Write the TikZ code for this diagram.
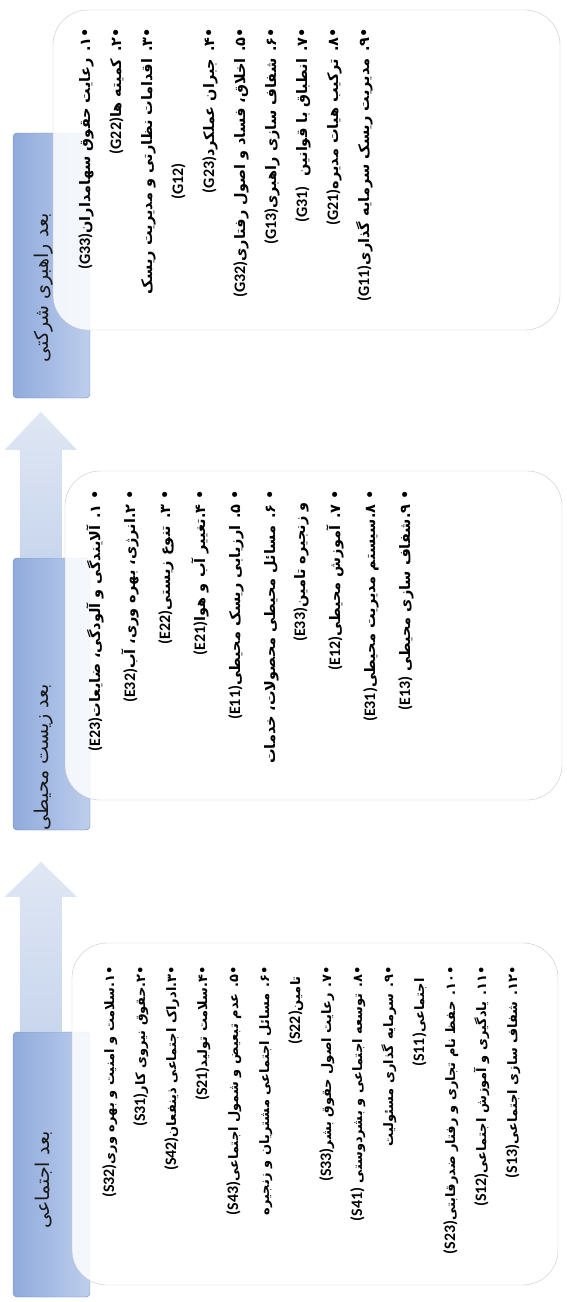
\documentclass[tikz,border=0pt]{standalone}
\usepackage{fontspec}
\newfontfamily\farsi[Script=Arabic]{DejaVu Sans}
\newfontfamily\latin{Carlito}
\TeXXeTstate=1
\usetikzlibrary{positioning}

\definecolor{headdark}{RGB}{143,170,220}
\definecolor{headlight}{RGB}{190,206,236}
\definecolor{headline}{RGB}{112,136,180}
\definecolor{boxline}{RGB}{196,200,206}
\definecolor{arrowtop}{RGB}{224,231,244}
\definecolor{arrowbot}{RGB}{200,214,237}

\newcommand{\ecode}[1]{\beginL{\latin\bfseries\fontsize{16}{16}\selectfont(#1)}\endL}

\begin{document}
\begin{tikzpicture}
[x=1pt,y=-1pt,
 head/.style = {draw=headline, rounded corners=4pt, left color=headdark, right color=headlight,
   minimum width=77pt, minimum height=265pt, inner sep=0pt},
 htext/.style = {rotate=90, inner sep=0pt, text=black!90, font=\farsi\fontsize{19}{21}\selectfont},
 cbox/.style = {draw=boxline, rounded corners=35pt, fill=white, fill opacity=0.85, inner sep=0pt},
 items/.style = {rotate=90, align=right, anchor=north east, inner sep=0pt},
 uparrow/.style = {top color=arrowtop, bottom color=arrowbot},]
\fill[white] (0,0) rectangle (566,1302);
\useasboundingbox (0,0) rectangle (566,1302);

\node (ghead) at (51.5,265.5) [head] {};
\node (ehead) at (51.5,694) [head, minimum height=272pt] {};
\node (shead) at (51.5,1164.5) [head] {};

\shade[uparrow] (shead.north west) ++(7,0) -- ++(0,-135) -- ++(-15,0) -- ++(36,-35)
  -- ++(36,35) -- ++(-15,0) -- ++(0,135) -- cycle;
\shade[uparrow] (ehead.north west) ++(7,0) -- ++(0,-108) -- ++(-15,0) -- ++(36,-38)
  -- ++(36,38) -- ++(-15,0) -- ++(0,108) -- cycle;

\node (gbox) at (306.5,170) [cbox, minimum width=507pt, minimum height=320pt] {};
\node (ebox) at (313.5,635.5) [cbox, minimum width=497pt, minimum height=329pt] {};
\node (sbox) at (315,1114) [cbox, minimum width=486pt, minimum height=342pt] {};

% header titles on top of the boxes
\node (gtitle) at (44,288) [htext] {\beginR بعد راهبری شرکتی\endR};
\node (etitle) at (44,757) [htext] {\beginR بعد زیست محیطی\endR};
\node (stitle) at (44,1180) [htext] {\beginR بعد اجتماعی\endR};

\node (glist) at (78,28) [items, font=\farsi\bfseries\fontsize{14.5}{31}\selectfont] {%
\beginR•۱. رعایت حقوق سهامداران\ecode{G33}\endR\\
\beginR•۲. کمیته ها\ecode{G22}\endR\\
\beginR•۳. اقدامات نظارتی و مدیریت ریسک\endR\\
\beginR\hspace*{135pt}\ecode{G12}\endR\\
\beginR•۴. جبران عملکرد\ecode{G23}\endR\\
\beginR•۵. اخلاق، فساد و اصول رفتاری\ecode{G32}\endR\\
\beginR•۶. شفاف سازی راهبری\ecode{G13}\endR\\
\beginR•۷. انطباق با قوانین\hspace{10pt}\ecode{G31}\endR\\
\beginR•۸. ترکیب هیات مدیره\ecode{G21}\endR\\
\beginR•۹. مدیریت ریسک سرمایه گذاری\ecode{G11}\endR};

\node (elist) at (86,490) [items, font=\farsi\bfseries\fontsize{14.5}{30}\selectfont] {%
\beginR• ۱. آلایندگی و آلودگی، ضایعات\ecode{E23}\endR\\[5pt]
\beginR• ۲.انرژی، بهره وری، آب\ecode{E32}\endR\\[5pt]
\beginR• ۳. تنوع زیستی\ecode{E22}\endR\\[5pt]
\beginR• ۴.تغییر آب و هوا\ecode{E21}\endR\\[5pt]
\beginR• ۵. ارزیابی ریسک محیطی\ecode{E11}\endR\\[5pt]
\beginR• ۶. مسائل محیطی محصولات، خدمات\endR\\
\beginR\hspace*{12pt}و زنجیره تامین\ecode{E33}\endR\\[5pt]
\beginR• ۷. آموزش محیطی\ecode{E12}\endR\\[5pt]
\beginR• ۸.سیستم مدیریت محیطی\ecode{E31}\endR\\[5pt]
\beginR• ۹.شفاف سازی محیطی \ecode{E13}\endR};

\node (slist) at (102,966) [items, font=\farsi\bfseries\fontsize{13}{31}\selectfont] {%
\beginR•۱.سلامت و امنیت و بهره وری\ecode{S32}\endR\\
\beginR•۲.حقوق نیروی کار\ecode{S31}\endR\\
\beginR•۳.ادراک اجتماعی ذینفعان\ecode{S42}\endR\\
\beginR•۴.سلامت تولید\ecode{S21}\endR\\
\beginR•۵. عدم تبعیض و شمول اجتماعی\ecode{S43}\endR\\
\beginR•۶. مسائل اجتماعی مشتریان و زنجیره\endR\\
\beginR\hspace*{10pt}تامین\ecode{S22}\endR\\
\beginR•۷. رعایت اصول حقوق بشر\ecode{S33}\endR\\
\beginR•۸. توسعه اجتماعی و بشردوستی \ecode{S41}\endR\\
\beginR•۹. سرمایه گذاری مسئولیت\endR\\
\beginR\hspace*{12pt}اجتماعی\ecode{S11}\endR\\
\beginR•۱۰. حفظ نام تجاری و رفتار ضدرقابتی\ecode{S23}\endR\\
\beginR•۱۱. یادگیری و آموزش اجتماعی\ecode{S12}\endR\\
\beginR•۱۲. شفاف سازی اجتماعی\ecode{S13}\endR};
\end{tikzpicture}
\end{document}
